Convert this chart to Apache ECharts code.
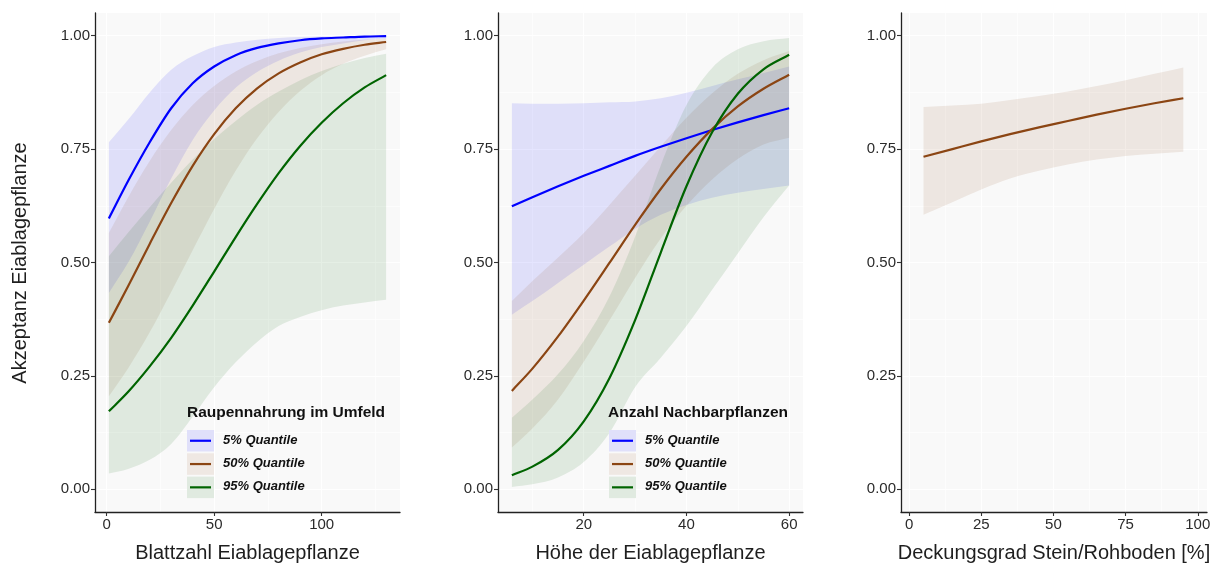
<!DOCTYPE html>
<html>
<head>
<meta charset="utf-8">
<script src="https://cdn.jsdelivr.net/npm/echarts@6/dist/echarts.min.js"></script>
<style>
  html, body { margin: 0; padding: 0; background: #ffffff; }
  #chart { width: 1220px; height: 568px; }
</style>
</head>
<body>
<div id="chart"></div>
<script>
// ---- Panel 1: Blattzahl Eiablagepflanze ----
const blattX      = [1, 10, 20, 30, 40, 50, 60, 70, 80, 90, 100, 110, 120, 130];
const blattLine5  = [0.597, 0.680, 0.765, 0.840, 0.895, 0.932, 0.957, 0.973, 0.983, 0.990, 0.994, 0.996, 0.998, 0.999];
const blattHigh5  = [0.765, 0.815, 0.875, 0.925, 0.955, 0.975, 0.985, 0.991, 0.995, 0.997, 0.998, 0.999, 0.9995, 1.000];
const blattLow5   = [0.433, 0.500, 0.590, 0.685, 0.770, 0.835, 0.885, 0.920, 0.945, 0.963, 0.975, 0.983, 0.990, 0.994];
const blattLine50 = [0.367, 0.448, 0.541, 0.631, 0.713, 0.783, 0.840, 0.884, 0.917, 0.941, 0.959, 0.971, 0.980, 0.986];
const blattHigh50 = [0.565, 0.644, 0.724, 0.792, 0.847, 0.889, 0.921, 0.944, 0.961, 0.973, 0.981, 0.987, 0.991, 0.994];
const blattLow50  = [0.205, 0.267, 0.346, 0.435, 0.527, 0.618, 0.702, 0.774, 0.832, 0.878, 0.913, 0.938, 0.956, 0.970];
const blattLine95 = [0.172, 0.215, 0.271, 0.334, 0.405, 0.480, 0.556, 0.629, 0.697, 0.757, 0.808, 0.851, 0.886, 0.913];
const blattHigh95 = [0.514, 0.566, 0.622, 0.676, 0.727, 0.772, 0.812, 0.848, 0.877, 0.902, 0.922, 0.938, 0.951, 0.960];
const blattLow95  = [0.035, 0.045, 0.065, 0.100, 0.160, 0.225, 0.280, 0.325, 0.360, 0.380, 0.395, 0.405, 0.412, 0.418];

// ---- Panel 2: Höhe der Eiablagepflanze ----
const hoeheX      = [6, 10, 15, 20, 25, 30, 35, 40, 45, 50, 55, 60];
const hoeheLine5  = [0.624, 0.644, 0.668, 0.691, 0.713, 0.735, 0.755, 0.774, 0.792, 0.809, 0.825, 0.840];
const hoeheHigh5  = [0.851, 0.850, 0.850, 0.851, 0.853, 0.855, 0.862, 0.874, 0.889, 0.904, 0.918, 0.932];
const hoeheLow5   = [0.385, 0.415, 0.455, 0.495, 0.535, 0.574, 0.605, 0.627, 0.643, 0.654, 0.662, 0.670];
const hoeheLine50 = [0.217, 0.266, 0.337, 0.416, 0.499, 0.583, 0.662, 0.733, 0.794, 0.844, 0.883, 0.914];
const hoeheHigh50 = [0.415, 0.459, 0.511, 0.565, 0.627, 0.691, 0.756, 0.819, 0.873, 0.916, 0.946, 0.966];
const hoeheLow50  = [0.092, 0.134, 0.198, 0.281, 0.372, 0.466, 0.553, 0.625, 0.683, 0.728, 0.760, 0.775];
const hoeheLine95 = [0.031, 0.050, 0.087, 0.150, 0.245, 0.373, 0.522, 0.668, 0.787, 0.872, 0.926, 0.958];
const hoeheHigh95 = [0.158, 0.198, 0.254, 0.327, 0.425, 0.557, 0.714, 0.847, 0.929, 0.970, 0.988, 0.995];
const hoeheLow95  = [0.005, 0.011, 0.026, 0.060, 0.124, 0.225, 0.290, 0.360, 0.440, 0.520, 0.600, 0.670];

// ---- Panel 3: Deckungsgrad Stein/Rohboden ----
const steinX    = [5, 15, 25, 35, 45, 55, 65, 75, 85, 95];
const steinLine = [0.733, 0.750, 0.767, 0.783, 0.798, 0.812, 0.826, 0.839, 0.851, 0.862];
const steinHigh = [0.843, 0.846, 0.850, 0.858, 0.867, 0.877, 0.889, 0.902, 0.916, 0.930];
const steinLow  = [0.605, 0.633, 0.661, 0.685, 0.702, 0.716, 0.727, 0.735, 0.740, 0.744];

// ---- Axis ticks ----
const yTicks       = [0, 0.25, 0.5, 0.75, 1];
const yMinorTicks  = [0.125, 0.375, 0.625, 0.875];
const blattTicks   = [0, 50, 100];
const blattMinor   = [25, 75, 125];
const hoeheTicks   = [20, 40, 60];
const hoeheMinor   = [10, 30, 50];
const steinTicks   = [0, 25, 50, 75, 100];
const steinMinor   = [12.5, 37.5, 62.5, 87.5];

const quantileLabels = ['5% Quantile', '50% Quantile', '95% Quantile'];
const lineColors = ['#0000FF', '#8B4513', '#006400'];
const bandColors = ['rgba(0,0,255,0.1)', 'rgba(139,69,19,0.1)', 'rgba(0,100,0,0.1)'];
const keyColors  = ['#E0E0FA', '#EFE8E3', '#E0EAE0'];

const FONT = '"Liberation Sans", Arial, sans-serif';
const PANEL_BG = '#F9F9F9';

const panels = [
  { left: 95,  width: 305, xmin: -5.45, xmax: 136.45, ticks: blattTicks, minor: blattMinor,
    title: 'Blattzahl Eiablagepflanze' },
  { left: 498, width: 305, xmin: 3.3,   xmax: 62.7,   ticks: hoeheTicks, minor: hoeheMinor,
    title: 'Höhe der Eiablagepflanze' },
  { left: 901, width: 306, xmin: -2.8,  xmax: 103.2,  ticks: steinTicks, minor: steinMinor,
    title: 'Deckungsgrad Stein/Rohboden [%]' }
];

const grid = [], xAxis = [], yAxis = [], series = [];

panels.forEach((p, i) => {
  grid.push({ left: p.left, width: p.width, top: 13, height: 500, show: true,
              backgroundColor: PANEL_BG, borderWidth: 0 });
  // main x axis
  xAxis.push({
    type: 'value', gridIndex: i, min: p.xmin, max: p.xmax, position: 'bottom',
    name: p.title, nameLocation: 'middle', nameGap: 31,
    nameTextStyle: { fontFamily: FONT, fontSize: 20, color: '#1e1e1e' },
    axisLine: { show: true, onZero: false, lineStyle: { color: '#222222', width: 1.3 } },
    axisTick: { show: true, length: 4, customValues: p.ticks, lineStyle: { color: '#333333', width: 1.1 } },
    axisLabel: { show: true, customValues: p.ticks, margin: 5, fontFamily: FONT, fontSize: 15, color: '#2b2b2b' },
    splitLine: { show: true, lineStyle: { color: '#FFFFFF', width: 1.1 } }
  });
  // minor vertical grid lines
  xAxis.push({
    type: 'value', gridIndex: i, min: p.xmin, max: p.xmax, position: 'top',
    axisLine: { show: false }, axisLabel: { show: false },
    axisTick: { show: false, customValues: p.minor },
    splitLine: { show: true, lineStyle: { color: '#FFFFFF', width: 0.6 } }
  });
  // main y axis
  yAxis.push({
    type: 'value', gridIndex: i, min: -0.05, max: 1.05, position: 'left',
    axisLine: { show: true, onZero: false, lineStyle: { color: '#222222', width: 1.3 } },
    axisTick: { show: true, length: 4, customValues: yTicks, lineStyle: { color: '#333333', width: 1.1 } },
    axisLabel: { show: true, customValues: yTicks, margin: 5, fontFamily: FONT, fontSize: 15, color: '#2b2b2b',
                 formatter: v => v.toFixed(2) },
    splitLine: { show: true, lineStyle: { color: '#FFFFFF', width: 1.1 } }
  });
  // minor horizontal grid lines
  yAxis.push({
    type: 'value', gridIndex: i, min: -0.05, max: 1.05, position: 'right',
    axisLine: { show: false }, axisLabel: { show: false },
    axisTick: { show: false, customValues: yMinorTicks },
    splitLine: { show: true, lineStyle: { color: '#FFFFFF', width: 0.6 } }
  });
});

// Monotone cubic (Fritsch–Carlson) path through pixel points; no overshoot.
function monotonePath(pts, startCmd) {
  const n = pts.length;
  const d = [], m = new Array(n);
  for (let k = 0; k < n - 1; k++) d.push((pts[k + 1][1] - pts[k][1]) / (pts[k + 1][0] - pts[k][0]));
  m[0] = d[0]; m[n - 1] = d[n - 2];
  for (let k = 1; k < n - 1; k++) m[k] = (d[k - 1] * d[k] <= 0) ? 0 : (d[k - 1] + d[k]) / 2;
  for (let k = 0; k < n - 1; k++) {
    if (d[k] === 0) { m[k] = 0; m[k + 1] = 0; continue; }
    const a = m[k] / d[k], b = m[k + 1] / d[k], s = a * a + b * b;
    if (s > 9) { const t = 3 / Math.sqrt(s); m[k] = t * a * d[k]; m[k + 1] = t * b * d[k]; }
  }
  let path = startCmd + ' ' + pts[0][0] + ' ' + pts[0][1];
  for (let k = 0; k < n - 1; k++) {
    const h = pts[k + 1][0] - pts[k][0];
    path += ' C ' + (pts[k][0] + h / 3) + ' ' + (pts[k][1] + m[k] * h / 3) + ' ' +
            (pts[k + 1][0] - h / 3) + ' ' + (pts[k + 1][1] - m[k + 1] * h / 3) + ' ' +
            pts[k + 1][0] + ' ' + pts[k + 1][1];
  }
  return path;
}

// confidence ribbon between lower and upper estimates
function band(panel, xs, lo, hi, colorIdx) {
  series.push({
    type: 'custom', coordinateSystem: 'cartesian2d',
    xAxisIndex: panel * 2, yAxisIndex: panel * 2, silent: true, z: 1,
    data: xs.map((x, i) => [x, lo[i], hi[i]]),
    encode: { x: 0, y: [1, 2] },
    renderItem: (params, api) => {
      if (params.dataIndex !== 0) return null;
      const upper = xs.map((x, i) => api.coord([x, hi[i]]));
      const lower = xs.map((x, i) => api.coord([x, lo[i]])).reverse();
      const pathData = monotonePath(upper, 'M') + ' ' + monotonePath(lower, 'L') + ' Z';
      return { type: 'path', shape: { pathData }, style: { fill: bandColors[colorIdx], stroke: null } };
    }
  });
}
// fitted probability curve
function curve(panel, xs, ys, colorIdx) {
  series.push({
    type: 'custom', coordinateSystem: 'cartesian2d',
    xAxisIndex: panel * 2, yAxisIndex: panel * 2, silent: true, z: 3,
    data: xs.map((x, i) => [x, ys[i]]),
    encode: { x: 0, y: 1 },
    renderItem: (params, api) => {
      if (params.dataIndex !== 0) return null;
      const pts = xs.map((x, i) => api.coord([x, ys[i]]));
      return { type: 'path', shape: { pathData: monotonePath(pts, 'M') },
               style: { fill: null, stroke: lineColors[colorIdx], lineWidth: 2.2, lineJoin: 'round' } };
    }
  });
}

band(0, blattX, blattLow5,  blattHigh5,  0);
band(0, blattX, blattLow50, blattHigh50, 1);
band(0, blattX, blattLow95, blattHigh95, 2);
curve(0, blattX, blattLine5, 0);
curve(0, blattX, blattLine50, 1);
curve(0, blattX, blattLine95, 2);

band(1, hoeheX, hoeheLow5,  hoeheHigh5,  0);
band(1, hoeheX, hoeheLow50, hoeheHigh50, 1);
band(1, hoeheX, hoeheLow95, hoeheHigh95, 2);
curve(1, hoeheX, hoeheLine5, 0);
curve(1, hoeheX, hoeheLine50, 1);
curve(1, hoeheX, hoeheLine95, 2);

band(2, steinX, steinLow, steinHigh, 1);
curve(2, steinX, steinLine, 1);

// legend boxes drawn inside the first two panels
const TOP_Z = 100;
function legendItems(left, titleLeft, title) {
  const items = [{
    type: 'text', x: titleLeft, y: 405, z: TOP_Z,
    style: { text: title, fontFamily: FONT, fontSize: 15.5, fontWeight: 'bold', fill: '#111111',
             verticalAlign: 'top', textVerticalAlign: 'top' }
  }];
  quantileLabels.forEach((lab, k) => {
    const top = 430 + k * 23.3;
    items.push({ type: 'rect', z: TOP_Z, shape: { x: left, y: top, width: 27, height: 21.5 },
                 style: { fill: keyColors[k] } });
    items.push({ type: 'line', z: TOP_Z + 1,
                 shape: { x1: left + 3, y1: top + 10.75, x2: left + 24, y2: top + 10.75 },
                 style: { stroke: lineColors[k], lineWidth: 2.2 } });
    items.push({ type: 'text', x: left + 36, y: top + 3.5, z: TOP_Z,
                 style: { text: lab, fontFamily: FONT, fontSize: 13, fontWeight: 'bold', fontStyle: 'italic',
                          fill: '#111111', verticalAlign: 'top', textVerticalAlign: 'top' } });
  });
  return items;
}

const graphic = [
  { type: 'text', x: 20, y: 263, rotation: Math.PI / 2, z: TOP_Z,
    style: { text: 'Akzeptanz Eiablagepflanze', fontFamily: FONT, fontSize: 20, fill: '#1e1e1e',
             align: 'center', verticalAlign: 'middle', textAlign: 'center', textVerticalAlign: 'middle' } },
  ...legendItems(187, 187, 'Raupennahrung im Umfeld'),
  ...legendItems(609, 608, 'Anzahl Nachbarpflanzen')
];

const chart = echarts.init(document.getElementById('chart'), null, { renderer: 'canvas' });
chart.setOption({ animation: false, backgroundColor: '#ffffff', grid, xAxis, yAxis, series, graphic });
</script>
</body>
</html>
